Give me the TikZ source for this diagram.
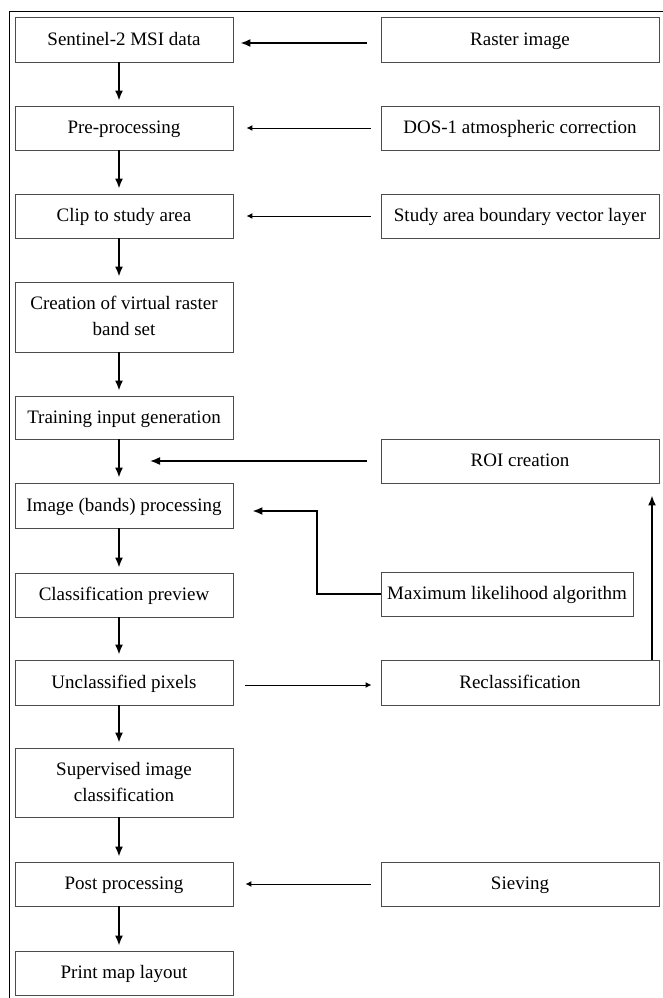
\documentclass[tikz,border=0pt]{standalone}
\usepackage{fontspec}
\setmainfont{Liberation Serif}
\usetikzlibrary{arrows.meta,calc}
\begin{document}
\begin{tikzpicture}[x=1bp,y=-1bp,
  box/.style={draw=black!70, line width=0.9bp, minimum height=44bp, align=center, inner sep=0pt, text height=13bp, text depth=2bp, font=\fontsize{19bp}{26bp}\selectfont},
  twoline/.style={text height=39bp, text depth=2bp},
  lbox/.style={box, minimum width=218bp},
  rbox/.style={box, minimum width=278bp},
  bigarrow/.style={line width=1.6bp, -{Latex[length=10bp,width=8bp]}},
  smallarrow/.style={line width=1bp, -{Latex[length=6bp,width=6bp]}},
]
\useasboundingbox (0,0) rectangle (663,998);
\draw[line width=1.2bp] (9.5,998) -- (9.5,11.5) -- (663,11.5);

% left column
\node[lbox, minimum height=45bp] (s1) at (124,39.5) {Sentinel-2 MSI data};
\node[lbox] (s2) at (124,128) {Pre-processing};
\node[lbox] (s3) at (124,216) {Clip to study area};
\node[lbox, twoline, minimum height=70bp] (s4) at (124,317) {Creation of virtual raster\\band set};
\node[lbox, minimum height=43bp] (s5) at (124,417.5) {Training input generation};
\node[lbox, minimum height=45bp] (s6) at (124,505.5) {Image (bands) processing};
\node[lbox] (s7) at (124,595) {Classification preview};
\node[lbox, minimum height=45bp] (s8) at (124,682.5) {Unclassified pixels};
\node[lbox, twoline, minimum height=69bp] (s9) at (124,782.5) {Supervised image\\classification};
\node[lbox] (s10) at (124,884) {Post processing};
\node[lbox] (s11) at (124,973) {Print map layout};

% right column
\node[rbox, minimum height=45bp] (r1) at (520,39.5) {Raster image};
\node[rbox] (r2) at (520,128) {DOS-1 atmospheric correction};
\node[rbox] (r3) at (520,216) {Study area boundary vector layer};
\node[rbox] (r4) at (520,461) {ROI creation};
\node[box, minimum width=252bp] (r5) at (507,594) {Maximum likelihood algorithm};
\node[rbox, minimum height=45bp] (r6) at (520,682.5) {Reclassification};
\node[rbox] (r7) at (520,884) {Sieving};

% vertical flow
\foreach \a/\b in {s1/s2,s2/s3,s3/s4,s4/s5,s5/s6,s6/s7,s7/s8,s8/s9,s9/s10,s10/s11}
  \draw[bigarrow, shorten >=5bp] ([xshift=-5bp]\a.south) -- ([xshift=-5bp]\b.north);

% inputs from the right
\draw[bigarrow, shorten <=14bp, shorten >=7bp] ([yshift=-3.5bp]r1.west) -- ([yshift=-3.5bp]s1.east);
\draw[smallarrow, shorten <=10bp, shorten >=13bp] (r2.west) -- (s2.east);
\draw[smallarrow, shorten <=10bp, shorten >=13bp] (r3.west) -- (s3.east);
\draw[smallarrow, shorten <=10bp, shorten >=12bp] (r7.west) -- (s10.east);

\coordinate (roitip) at (150,461);
\draw[bigarrow, shorten <=14bp] (r4.west) -- (roitip);

\coordinate (mk) at (317,511);
\draw[bigarrow, shorten >=19bp] (r5.west) -- (r5.west -| mk) -- (mk) -- (s6.east |- mk);

\draw[smallarrow, shorten <=12bp, shorten >=9bp] ([yshift=-2.5bp]s8.east) -- ([yshift=-2.5bp]r6.west);

\coordinate (rx) at (652,0);
\draw[bigarrow, shorten >=12bp] (r6.north -| rx) -- (r4.south -| rx);
\end{tikzpicture}
\end{document}
